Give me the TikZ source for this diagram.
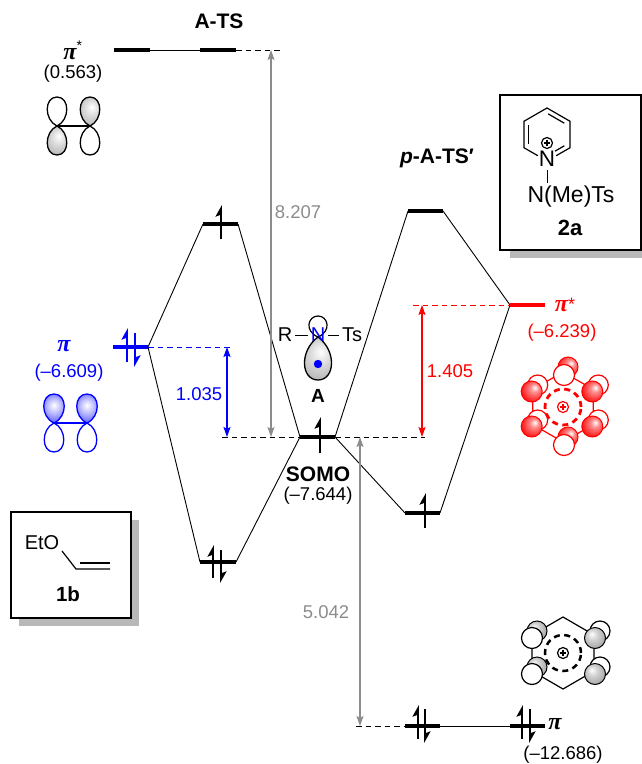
\documentclass[tikz,border=0pt]{standalone}
\usepackage{fontspec}
\setmainfont{Liberation Sans}
\newfontfamily\grk{Liberation Serif}
\usetikzlibrary{arrows.meta}
\newcommand\setfs[1]{\fontsize{#1}{#1}\selectfont}
\newcommand\grpi{{\grk\bfseries\itshape π}}
\definecolor{arrgray}{gray}{0.55}
\pgfdeclareradialshading{redball}{\pgfpoint{8bp}{10bp}}{color(0bp)=(white); color(10bp)=(red!45!white); color(30bp)=(red!95!white); color(50bp)=(red)}
\pgfdeclareradialshading{greyball}{\pgfpoint{-8bp}{10bp}}{color(0bp)=(white); color(12bp)=(gray!35); color(32bp)=(gray!75); color(50bp)=(gray!70!black)}
\pgfdeclareradialshading{blueball}{\pgfpoint{0bp}{6bp}}{color(0bp)=(white); color(12bp)=(blue!25!white); color(35bp)=(blue!80!white); color(50bp)=(blue)}
\pgfdeclareradialshading{greylobe}{\pgfpoint{4bp}{8bp}}{color(0bp)=(white); color(14bp)=(gray!30); color(36bp)=(gray!70); color(50bp)=(gray!70!black)}
\newcommand\eup[4][black]{\draw[elec,#1] (#2,#4) -- (#2,#3);}
\newcommand\edn[4][black]{\draw[elec,#1] (#2,#3) -- (#2,#4);}
\newcommand\plobe[5]{\begin{scope}[shift={(#1,#2)},xscale=#3,yscale=#4]
\path[#5] (0,0) .. controls (-13,-6) and (-13,-29) .. (0,-29) .. controls (13,-29) and (13,-6) .. (0,0) -- cycle;
\end{scope}}
\newcommand\pluscirc[3]{\draw[line width=1.2pt,#3] (#1,#2) circle[radius=5.5pt];
\draw[line width=1.3pt,#3] (#1-3.3,#2) -- (#1+3.3,#2) (#1,#2-3.3) -- (#1,#2+3.3);}
\begin{document}
\begin{tikzpicture}[x=1pt,y=-1pt,
  bar/.style={line width=4pt},
  conn/.style={line width=0.9pt},
  dsh/.style={line width=0.9pt, dash pattern=on 5.5pt off 4pt},
  elec/.style={line width=1.8pt, -{Stealth[left,length=10pt,width=11pt,inset=2pt]}},
  dbl/.style={line width=1.6pt, {Stealth[length=10pt,width=7pt,inset=2pt]}-{Stealth[length=10pt,width=7pt,inset=2pt]}},
  lab/.style={inner sep=0pt, font=\setfs{18.5}},
  blab/.style={inner sep=0pt, font=\setfs{21}\bfseries},
  lobeline/.style={line width=1.3pt},
  boxst/.style={line width=1.4pt, fill=white},
  shadowst/.style={fill=black!28},
  ringst/.style={line width=1.2pt},
  redsph/.style={draw=red, line width=1pt, shading=redball},
  greysph/.style={draw=black, line width=1pt, shading=greyball},
  redwh/.style={draw=red, line width=1.2pt, fill=white},
  blkwh/.style={draw=black, line width=1.2pt, fill=white}
]
\useasboundingbox (0,0) rectangle (642,764);

% ---------- coordinates of level ends ----------
\coordinate (atsA1) at (114,50); \coordinate (atsA2) at (150,50);
\coordinate (atsB1) at (200,50); \coordinate (atsB2) at (236,50);
\coordinate (up1) at (203,224); \coordinate (up2) at (238,224);
\coordinate (bp1) at (113,347); \coordinate (bp2) at (148,347);
\coordinate (lo1) at (200,562); \coordinate (lo2) at (236,562);
\coordinate (so1) at (300,437); \coordinate (so2) at (335,437);
\coordinate (pu1) at (408,211); \coordinate (pu2) at (443,211);
\coordinate (pl1) at (405,513); \coordinate (pl2) at (440,513);
\coordinate (rp1) at (510,305); \coordinate (rp2) at (545,305);
\coordinate (bt1) at (405,726); \coordinate (bt2) at (440,726);
\coordinate (bt3) at (510,726); \coordinate (bt4) at (545,726);
% dashed ends
\coordinate (dA) at (283,50); \coordinate (dB) at (233,347);
\coordinate (dC) at (222,437); \coordinate (dD) at (425,437);
\coordinate (dE) at (413,305); \coordinate (dF) at (356,726);
% arrow ends
\coordinate (gA1) at (271,50); \coordinate (gA2) at (271,437);
\coordinate (bA1) at (227,347); \coordinate (bA2) at (227,437);
\coordinate (rA1) at (422,305); \coordinate (rA2) at (422,437);
\coordinate (gB1) at (360,437); \coordinate (gB2) at (360,726);

% ---------- boxes ----------
\fill[shadowst] (510,103) rectangle (652,258);
\draw[boxst] (500,95) rectangle (641,250);
\fill[shadowst] (19,520) rectangle (139,626);
\draw[boxst] (11,512) rectangle (131,618);

% ---------- connectors ----------
\draw[conn] (up1) -- (bp2) -- (lo1);
\draw[conn] (up2) -- (so1) -- (lo2);
\draw[conn] (pu1) -- (so2) -- (pl1);
\draw[conn] (pu2) -- (rp1) -- (pl2);
\draw[conn] (atsA2) -- (atsB1);
\draw[conn] (bt2) -- (bt3);

% ---------- dashed ----------
\draw[dsh] (atsB2) -- (dA);
\draw[dsh,blue] (bp2) -- (dB);
\draw[dsh] (dC) -- (so1);
\draw[dsh] (so2) -- (dD);
\draw[dsh,red] (dE) -- (rp1);
\draw[dsh] (dF) -- (bt1);

% ---------- double arrows ----------
\draw[dbl,arrgray,line width=1.4pt] (gA1) -- (gA2);
\draw[dbl,arrgray,line width=1.4pt] (gB1) -- (gB2);
\draw[dbl,blue] (bA1) -- (bA2);
\draw[dbl,red] (rA1) -- (rA2);

% ---------- bars ----------
\draw[bar] (atsA1) -- (atsA2);
\draw[bar] (atsB1) -- (atsB2);
\draw[bar] (up1) -- (up2);
\draw[bar,blue] (bp1) -- (bp2);
\draw[bar] (lo1) -- (lo2);
\draw[bar] (so1) -- (so2);
\draw[bar] (pu1) -- (pu2);
\draw[bar] (pl1) -- (pl2);
\draw[bar,red] (rp1) -- (rp2);
\draw[bar] (bt1) -- (bt2);
\draw[bar] (bt3) -- (bt4);

% ---------- electrons ----------
\eup{221}{205}{239}
\eup[blue]{127}{328}{362} \edn[blue]{135}{333}{367}
\eup{213}{545}{578} \edn{221}{550}{583}
\eup{320}{417}{453}
\eup{425}{493}{528}
\eup{418}{705}{739} \edn{425}{709}{743}
\eup{522}{705}{739} \edn{530}{709}{743}

% ---------- labels ----------
\node[blab] (ats) at (219,21) {A-TS};
\node[inner sep=0pt,font=\setfs{24}] (pistar) at (73,50) {\grpi\textsuperscript{\setfs{14}*}};
\node[lab] (e1) at (73,74) {(0.563)};
\node[lab,arrgray] (d1) at (298,212) {8.207};
\node[inner sep=0pt,font=\setfs{24},blue] (pib) at (64,346) {\grpi};
\node[lab,blue] (e2) at (69,373) {(–6.609)};
\node[lab,blue] (d2) at (199,394) {1.035};
\node[blab] (somo) at (318,474) {SOMO};
\node[lab] (e3) at (318,496) {(–7.644)};
\node[blab] (pats) at (437,158) {\itshape p\upshape-A-TS\raisebox{0pt}{′}};
\node[lab,red] (d3) at (450,371) {1.405};
\node[inner sep=0pt,font=\setfs{24},red] (pir) at (565,305) {\grpi\raisebox{1pt}{\setfs{18}*}};
\node[lab,red] (e4) at (562,333) {(–6.239)};
\node[lab,arrgray] (d4) at (326,612) {5.042};
\node[inner sep=0pt,font=\setfs{24}] (pik) at (555,724) {\grpi};
\node[lab] (e5) at (563,755) {(–12.686)};

% ---------- pi* orbital (top left) ----------
\draw[lobeline] (57,126) -- (90,126);
\plobe{57}{126}{1}{1}{draw,lobeline,fill=white}
\plobe{57}{126}{1}{-1}{draw,lobeline,shading=greylobe}
\plobe{90}{126}{1}{1}{draw,lobeline,shading=greylobe}
\plobe{90}{126}{1}{-1}{draw,lobeline,fill=white}

% ---------- pi orbital (blue) ----------
\draw[lobeline,blue] (54,423) -- (87,423);
\plobe{54}{423}{1}{-1}{draw=blue,lobeline,fill=white}
\plobe{87}{423}{1}{-1}{draw=blue,lobeline,fill=white}
\plobe{54}{423}{1.05}{1}{draw=blue,lobeline,shading=blueball}
\plobe{87}{423}{1.05}{1}{draw=blue,lobeline,shading=blueball}

% ---------- radical A ----------
\begin{scope}[shift={(318,337)}]
\path[draw,line width=1.2pt,fill=white] (0,0) .. controls (-14,-6) and (-10,-21) .. (0,-21) .. controls (10,-21) and (14,-6) .. (0,0) -- cycle;
\path[draw,line width=1.3pt,shading=greylobe] (0,0) .. controls (-19,14) and (-17,43) .. (0,43) .. controls (17,43) and (19,14) .. (0,0) -- cycle;
\fill[blue] (0,27) circle[radius=4.2pt];
\end{scope}
\node[lab,font=\setfs{20}] (R) at (285,335) {R};
\node[lab,font=\setfs{20},blue] (Nrad) at (318,335) {N};
\node[lab,font=\setfs{20}] (Ts) at (352,335) {Ts};
\draw[line width=1pt] ([xshift=3pt]R.east) -- ([xshift=-3pt]Nrad.west);
\draw[line width=1pt] ([xshift=3pt]Nrad.east) -- ([xshift=-3pt]Ts.west);
\node[lab,font=\setfs{19}\bfseries] (Alab) at (318,396) {A};

% ---------- pyridinium pi* (red) ----------
\draw[ringst,red] (563,372) -- (593.3,389.5) -- (593.3,424.5) -- (563,442) -- (532.7,424.5) -- (532.7,389.5) -- cycle;
\path[redsph] (568,367) circle[radius=10pt];
\path[redwh] (564,375) circle[radius=10.5pt];
\path[redwh] (537.7,385) circle[radius=10pt];
\path[redsph] (531.7,391.5) circle[radius=10.5pt];
\path[redwh] (598.3,385) circle[radius=10pt];
\path[redsph] (592.3,391.5) circle[radius=10.5pt];
\path[redwh] (537.7,420) circle[radius=10pt];
\path[redsph] (531.7,426.5) circle[radius=10.5pt];
\path[redwh] (598.3,420) circle[radius=10pt];
\path[redsph] (592.3,426.5) circle[radius=10.5pt];
\path[redsph] (568,437) circle[radius=10pt];
\path[redwh] (564,445) circle[radius=10.5pt];
\draw[red,line width=2.8pt,dash pattern=on 6pt off 4.5pt] (563,407) circle[radius=18pt];
\pluscirc{563}{407}{red}

% ---------- pyridinium pi (black) ----------
\draw[ringst] (563,617) -- (594,635) -- (594,671) -- (563,689) -- (532,671) -- (532,635) -- cycle;
\path[greysph] (537,631) circle[radius=10pt];
\path[blkwh] (532,638) circle[radius=10.5pt];
\path[greysph] (537,667) circle[radius=10pt];
\path[blkwh] (532,674) circle[radius=10.5pt];
\path[blkwh] (600,631) circle[radius=10pt];
\path[greysph] (595,638) circle[radius=10.5pt];
\path[blkwh] (600,667) circle[radius=10pt];
\path[greysph] (595,674) circle[radius=10.5pt];
\draw[line width=2.5pt,dash pattern=on 6pt off 4.5pt] (563,653) circle[radius=18pt];
\pluscirc{563}{653}{black}

% ---------- box 2a content ----------
\draw[ringst] (556.2,155.7) -- (570,147.75) -- (570,121.25) -- (547,108) -- (524,121.25) -- (524,147.75) -- (537.8,155.7);
\draw[ringst] (548.2,113.9) -- (564.3,123.2);
\draw[ringst] (528.5,125.2) -- (528.5,143.8);
\draw[ringst] (564.3,145.8) -- (555,151.2);
\pluscirc{547}{143}{black}
\node[inner sep=0pt,font=\setfs{22.5}] (Npy) at (547,159) {N};
\draw[ringst] (547.5,170) -- (547.5,183);
\node[inner sep=0pt,font=\setfs{23}] (NMeTs) at (571,197) {N(Me)Ts};
\node[inner sep=0pt,font=\setfs{22}\bfseries] (l2a) at (570,228) {2a};

% ---------- box 1b content ----------
\node[inner sep=0pt,font=\setfs{20}] (EtO) at (42,543) {EtO};
\draw[ringst] (62,551) -- (76,569) -- (110,569);
\draw[ringst] (80,563) -- (110,563);
\node[inner sep=0pt,font=\setfs{20.5}\bfseries] (l1b) at (68,594) {1b};
\end{tikzpicture}
\end{document}
